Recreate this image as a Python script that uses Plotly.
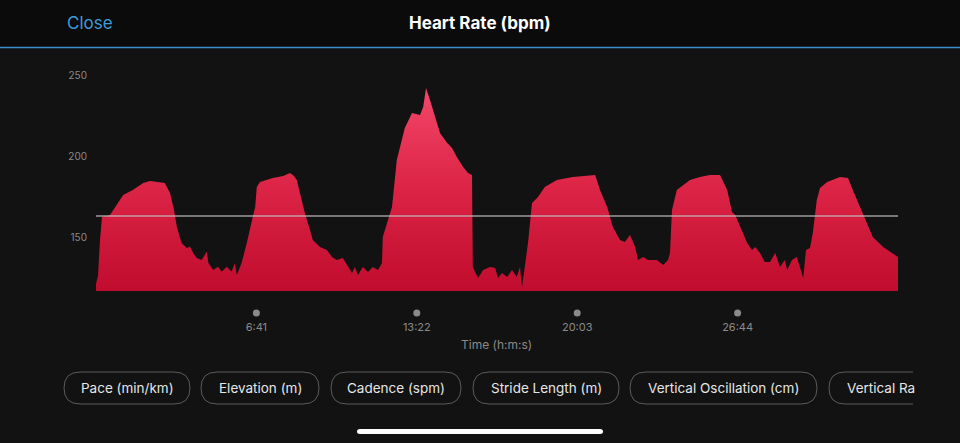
import plotly.graph_objects as go

# ---------------- data ----------------
time_s = [0, 5, 10, 15, 35, 52, 68, 92, 118, 135, 152, 172, 185, 195, 202,
          214, 227, 235, 243, 252, 264, 277, 281, 293, 305, 314, 327, 339, 347, 352, 364, 377, 392,
          398, 402, 410, 442, 468, 485, 495,
          502, 510, 522, 535, 542, 560, 577, 590, 602, 617, 630, 640, 647, 655, 667, 680, 692, 705, 715,
          717, 730, 740, 752, 772, 790, 810, 818, 825, 835, 852, 860, 878, 890, 902, 918, 930, 940,
          942, 955, 968, 985, 998, 1005, 1015, 1028, 1040, 1052, 1060, 1065, 1072, 1080,
          1090, 1105, 1122, 1152, 1192, 1235, 1248, 1260, 1278, 1292, 1310, 1322, 1335, 1348, 1355,
          1368, 1380, 1402, 1418, 1430, 1435, 1440, 1452, 1485, 1510, 1535, 1560, 1578, 1590, 1598,
          1615, 1628, 1640, 1648, 1660, 1672, 1685, 1698, 1710, 1722, 1728, 1740, 1752, 1760, 1768,
          1775, 1785, 1792, 1802, 1810, 1828, 1860, 1880, 1892, 1918, 1942, 1968, 1990, 2005]
hr_bpm = [121, 126, 148, 162.3, 163.6, 169.8, 175.9, 179, 183.3, 184.6, 184, 183.3, 177.2, 166.7, 156.4,
          146.3, 143.2, 144, 140.1, 137, 135.8, 140.9, 134, 129.6, 131.7, 128.6, 131.7, 128.6, 134, 126.5, 134, 146.3, 162.5,
          168.5, 180.9, 184, 186.4, 187.7, 189.5, 187.7,
          185.2, 177.2, 164.8, 154.3, 148.1, 143.8, 142, 137.7, 135.8, 137, 131.5, 127.8, 131.5, 126.5, 131.5, 128.4, 131.5, 129.6, 134,
          150, 160.5, 168.5, 197.5, 217.3, 226.5, 225.3, 230.2, 242, 234.6, 220.4, 214.2, 208, 205, 199.4, 193.2, 189.5, 188.3,
          131.5, 124.7, 129.6, 131.5, 130.9, 124.7, 127.8, 125.3, 129.6, 125.3, 131.5, 119.1, 131.5, 146.3,
          171, 174.7, 180.9, 185.2, 187, 188.3, 188.3, 179, 168.5, 156.2, 148.1, 146.9, 151.2, 143.8, 135.8,
          137.7, 135.8, 135.8, 132.7, 135.8, 140.1, 166.7, 179, 185.2, 187, 188.3, 188.3, 179, 165.4, 163.6,
          154.3, 146.3, 142, 143.8, 140.1, 134.6, 134.6, 140.1, 131.5, 135.8, 129.6, 135.8, 137.7, 131.5, 124.7,
          142, 143.2, 152.5, 172.8, 180.2, 184, 187, 186.4, 179, 163.6, 150, 143.8, 140.1, 137.7]
avg_bpm = 163
tick_times = [401, 802, 1203, 1604]
tick_labels = ["6:41", "13:22", "20:03", "26:44"]
y_ticks = [150, 200, 250]
buttons = ["Pace (min/km)", "Elevation (m)", "Cadence (spm)", "Stride Length (m)",
           "Vertical Oscillation (cm)", "Vertical Ra"]

# ---------------- layout helpers ----------------
W, H = 960, 443
def px(x): return x / W
def py(y): return 1 - y / H

FONT = "Inter, Roboto, 'Noto Sans', sans-serif"
Y0, Y1 = 116.7, 253.1
X0, X1 = 0, 2005

fig = go.Figure()
fig.add_trace(go.Scatter(
    x=time_s, y=hr_bpm, mode="lines", fill="tozeroy",
    line=dict(width=0, color="#e0304f"),
    fillgradient=dict(type="vertical", start=Y0, stop=245,
                      colorscale=[[0, "#c00c2e"], [0.5, "#dc2446"], [1, "#f4496c"]]),
    hoverinfo="skip", showlegend=False))

shapes = []
# top bar background + blue divider
shapes.append(dict(type="rect", xref="paper", yref="paper", x0=0, x1=1, y0=py(47), y1=1,
                   fillcolor="#0b0b0c", line=dict(width=0), layer="below"))
shapes.append(dict(type="line", xref="paper", yref="paper", x0=0, x1=1, y0=py(47.5), y1=py(47.5),
                   line=dict(color="#3b8cc8", width=1.5)))
# average line
shapes.append(dict(type="line", xref="x", yref="y", x0=X0, x1=X1, y0=avg_bpm, y1=avg_bpm,
                   line=dict(color="rgba(190,190,190,0.8)", width=1.5), layer="above"))
# tick dots
for t in tick_times:
    shapes.append(dict(type="circle", xref="x", yref="paper", xsizemode="pixel", ysizemode="pixel",
                       xanchor=t, yanchor=py(313), x0=-3.5, x1=3.5, y0=-3.5, y1=3.5,
                       fillcolor="#8a8a8a", line=dict(width=0)))

# pills
pills = [(64, 190), (201, 319), (331, 461), (473, 619), (630, 817), (829, 913)]
ytop, ybot, r = 372, 404, 16
annotations = []
for i, ((a, b), label) in enumerate(zip(pills, buttons)):
    if i < len(pills) - 1:
        path = (f"M {px(a + r)} {py(ytop)} L {px(b - r)} {py(ytop)} "
                f"Q {px(b)} {py(ytop)} {px(b)} {py((ytop + ybot) / 2)} "
                f"Q {px(b)} {py(ybot)} {px(b - r)} {py(ybot)} "
                f"L {px(a + r)} {py(ybot)} "
                f"Q {px(a)} {py(ybot)} {px(a)} {py((ytop + ybot) / 2)} "
                f"Q {px(a)} {py(ytop)} {px(a + r)} {py(ytop)} Z")
        cx = (a + b) / 2
        anchor = "center"
    else:
        path = (f"M {px(b)} {py(ytop)} L {px(a + r)} {py(ytop)} "
                f"Q {px(a)} {py(ytop)} {px(a)} {py((ytop + ybot) / 2)} "
                f"Q {px(a)} {py(ybot)} {px(a + r)} {py(ybot)} L {px(b)} {py(ybot)}")
        cx = a + 16
        anchor = "left"
    shapes.append(dict(type="path", xref="paper", yref="paper", path=path,
                       line=dict(color="#5a5a5a", width=1), fillcolor="rgba(0,0,0,0)"))
    annotations.append(dict(x=px(cx), y=py(388), xref="paper", yref="paper", text=label,
                            showarrow=False, xanchor=anchor, yanchor="middle",
                            font=dict(family=FONT, size=13.5, color="#e6e6e6")))
# mask for clipped last pill
shapes.append(dict(type="rect", xref="paper", yref="paper", x0=px(913), x1=1, y0=py(410), y1=py(366),
                   fillcolor="#121212", line=dict(width=0)))
# home indicator
shapes.append(dict(type="path", xref="paper", yref="paper",
                   path=(f"M {px(360)} {py(429)} L {px(600)} {py(429)} Q {px(603)} {py(429)} {px(603)} {py(431.5)} "
                         f"Q {px(603)} {py(434)} {px(600)} {py(434)} L {px(360)} {py(434)} "
                         f"Q {px(357)} {py(434)} {px(357)} {py(431.5)} Q {px(357)} {py(429)} {px(360)} {py(429)} Z"),
                   fillcolor="#ffffff", line=dict(width=0)))

annotations += [
    dict(x=px(480), y=py(23), xref="paper", yref="paper", text="<b>Heart Rate (bpm)</b>",
         showarrow=False, font=dict(family=FONT, size=17, color="#ffffff"), xanchor="center", yanchor="middle"),
    dict(x=px(65), y=py(23), xref="paper", yref="paper", text="Close", showarrow=False,
         font=dict(family=FONT, size=17, color="#3d9bd8"), xanchor="left", yanchor="middle"),
    dict(x=px(496), y=py(344), xref="paper", yref="paper", text="Time (h:m:s)", showarrow=False,
         font=dict(family=FONT, size=12, color="#8a8a8a"), xanchor="center", yanchor="middle"),
]

fig.update_layout(
    width=W, height=H, margin=dict(l=0, r=0, t=0, b=0),
    paper_bgcolor="#121212", plot_bgcolor="rgba(0,0,0,0)",
    shapes=shapes, annotations=annotations, showlegend=False,
    xaxis=dict(domain=[px(96), px(898)], range=[X0, X1], showgrid=False, zeroline=False,
               showline=False, tickvals=tick_times, ticktext=tick_labels, ticks="",
               ticklabelstandoff=28, tickfont=dict(family=FONT, size=11, color="#8a8a8a"),
               fixedrange=True),
    yaxis=dict(domain=[py(291), py(70)], range=[Y0, Y1], showgrid=False, zeroline=False,
               showline=False, tickvals=y_ticks, ticks="", ticklabelstandoff=8,
               tickfont=dict(family=FONT, size=10, color="#8a8a8a"), fixedrange=True),
)

fig.write_html("out.html", config={"displayModeBar": False},
               post_script="document.body.style.margin='0';document.body.style.background='#121212';")
